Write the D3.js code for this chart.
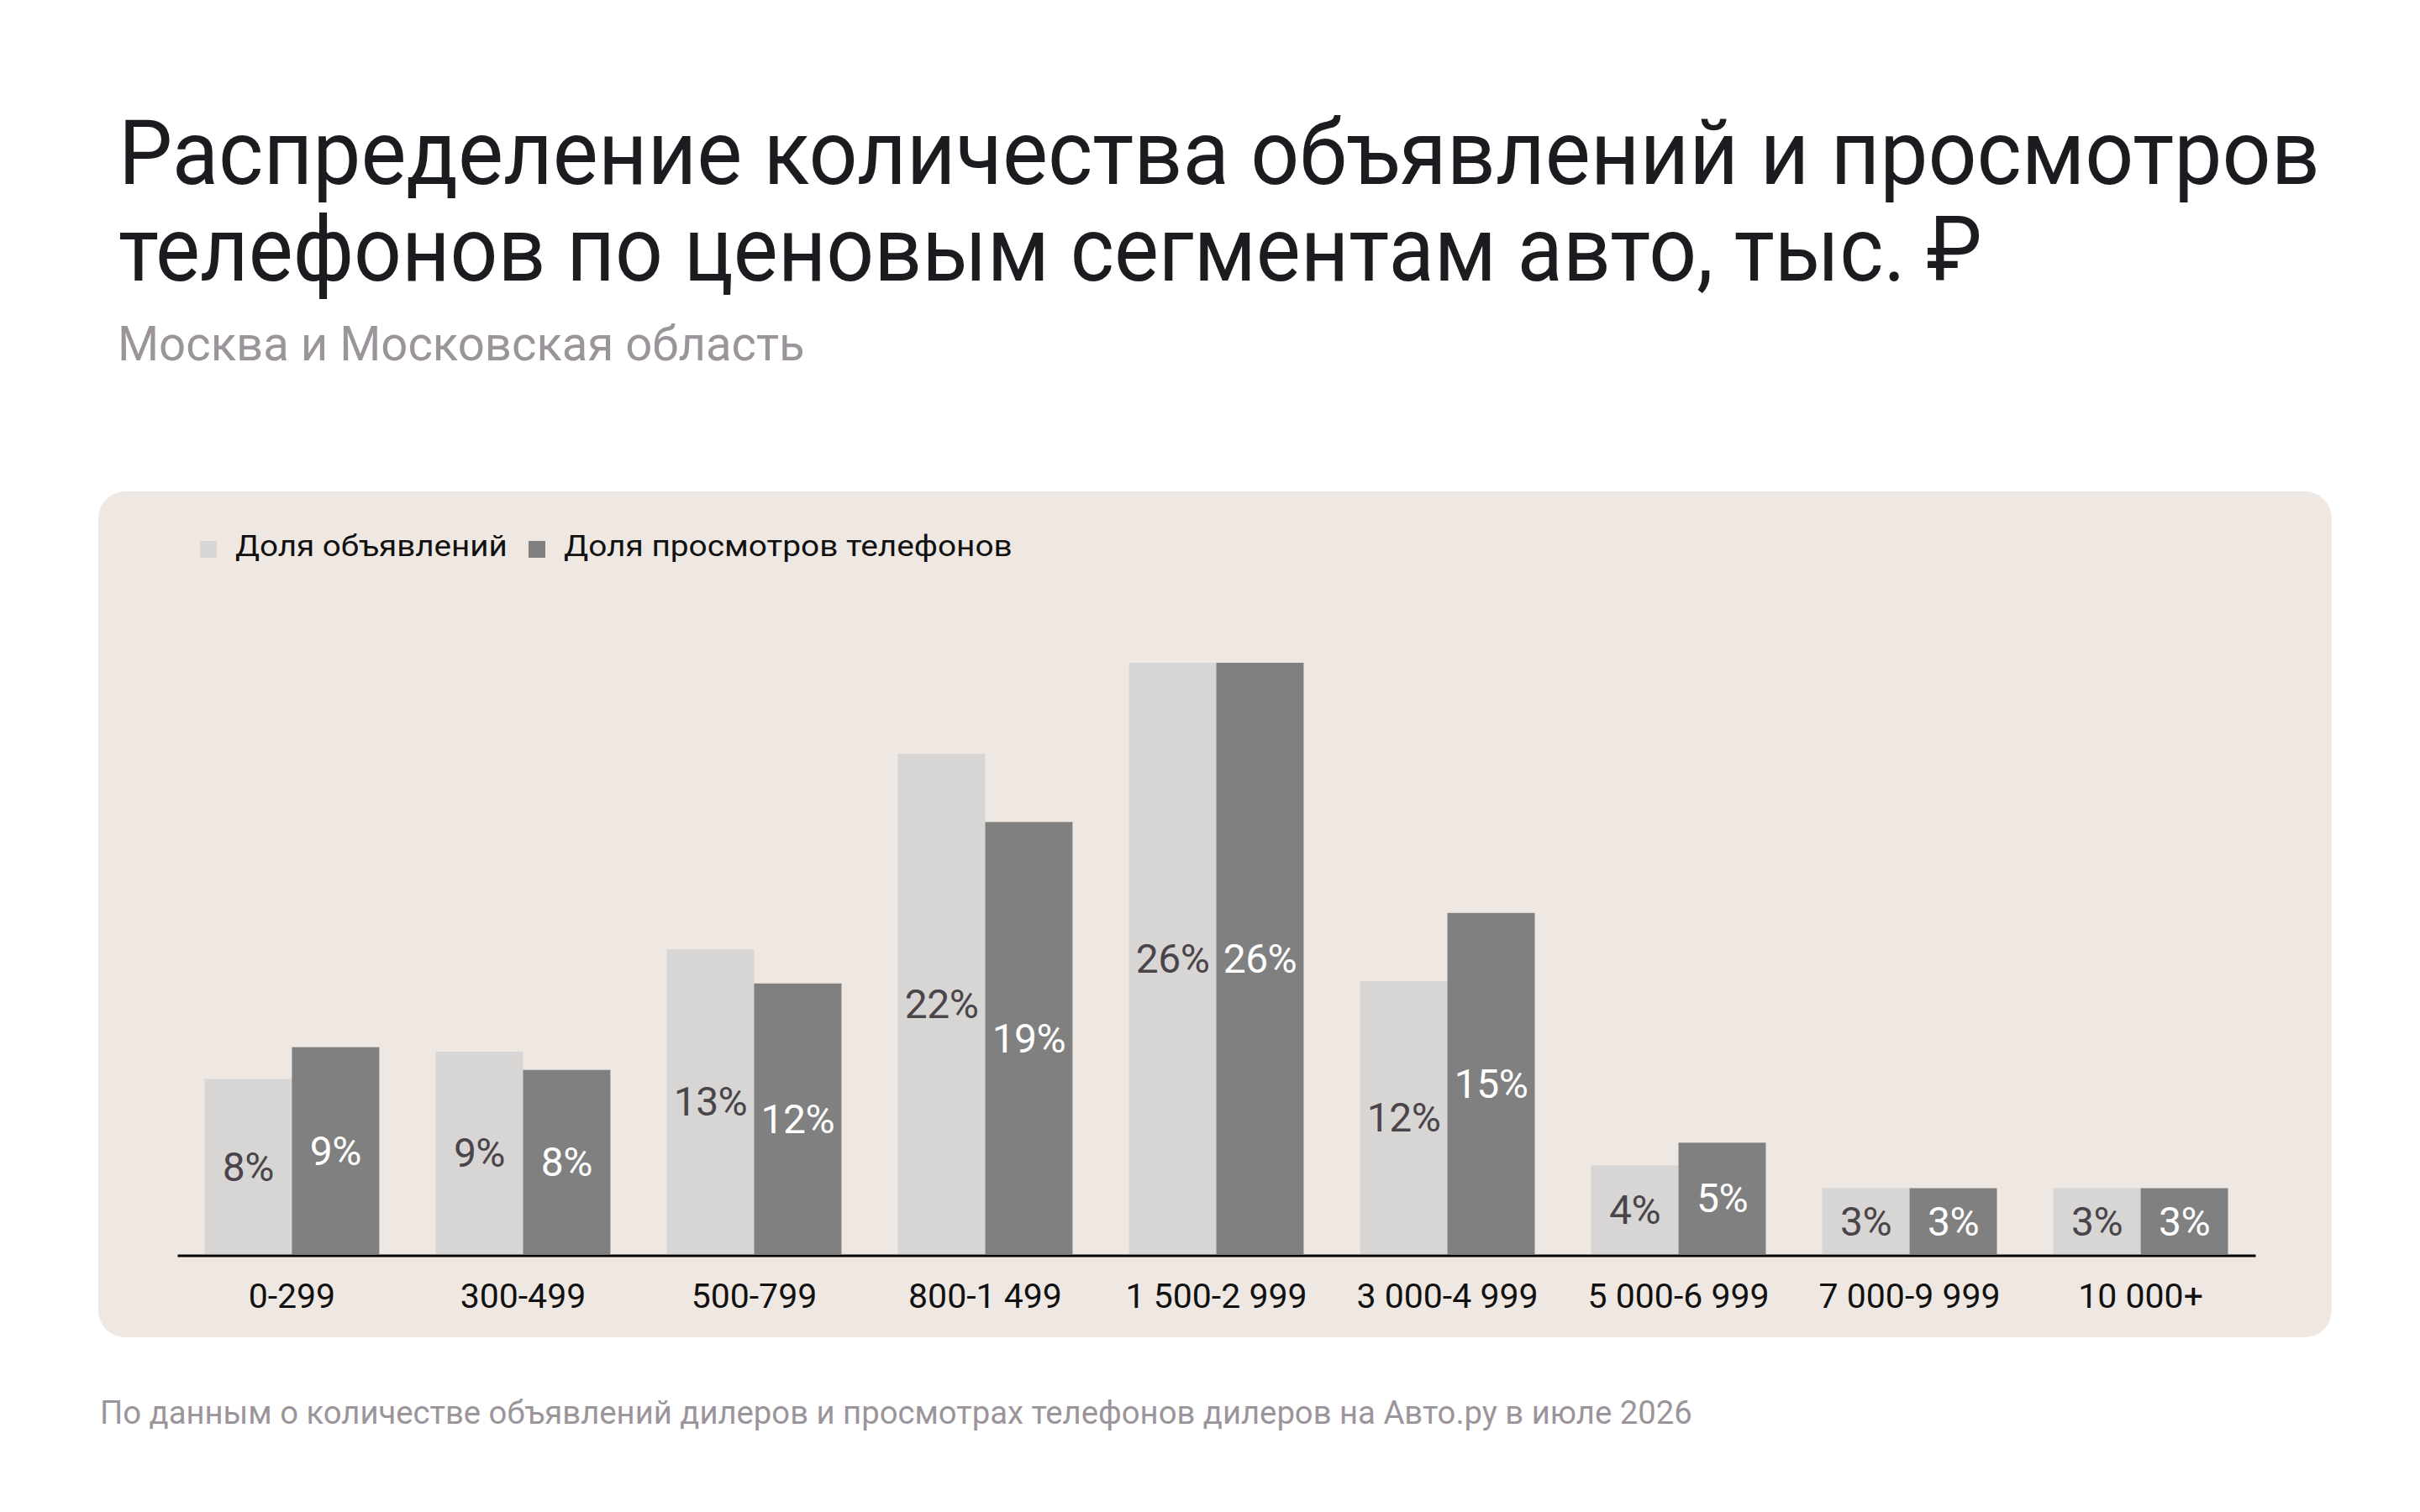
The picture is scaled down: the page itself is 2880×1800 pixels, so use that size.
<!DOCTYPE html>
<html>
<head>
<meta charset="utf-8">
<script src="https://cdn.jsdelivr.net/npm/d3@7"></script>
<style>
  body { margin: 0; background: #ffffff; }
  svg { display: block; }
</style>
</head>
<body>
<div class="chart"></div>
<script>
// Price segments, thousand rubles
var categories = ["0-299", "300-499", "500-799", "800-1 499", "1 500-2 999",
                  "3 000-4 999", "5 000-6 999", "7 000-9 999", "10 000+"];

// Share of listings, %
var listingShare = [7.7, 8.9, 13.4, 22.0, 26.0, 12.0, 3.9, 2.9, 2.9];
// Share of phone views, %
var phoneViewShare = [9.1, 8.1, 11.9, 19.0, 26.0, 15.0, 4.9, 2.9, 2.9];

var seriesNames = ["Доля объявлений", "Доля просмотров телефонов"];
var seriesKeys = ["listings", "views"];

var titleLines = ["Распределение количества объявлений и просмотров",
                  "телефонов по ценовым сегментам авто, тыс. ₽"];
var subtitle = "Москва и Московская область";
var footnote = "По данным о количестве объявлений дилеров и просмотрах телефонов дилеров на Авто.ру в июле 2026";

var font = "Roboto, 'Noto Sans', sans-serif";
var colors = { listings: "#d7d6d4", views: "#808080" };
var labelColors = { listings: "#4b454b", views: "#ffffff" };

var rows = categories.map(function(c, i) {
  return { cat: c, listings: listingShare[i], views: phoneViewShare[i] };
});

var width = 2880, height = 1800;
var baseline = 1493;

var svg = d3.select(".chart").append("svg")
            .attr("width", width)
            .attr("height", height)
            .style("font-family", font);

// put a text at (x, y) and squeeze it horizontally to width w
function placeText(sel, x, y, w) {
  var natural = sel.node().getComputedTextLength();
  var k = w / natural;
  sel.attr("transform", "translate(" + x + "," + y + ") scale(" + k + ",1)");
}

// Title + subtitle
svg.selectAll("text.title")
   .data(titleLines)
   .enter().append("text")
   .attr("class", "title")
   .style("font-size", "108px")
   .style("fill", "#1d1b1f")
   .text(function(d) { return d; })
   .each(function(d, i) {
     placeText(d3.select(this), 141, 219 + i * 115, i === 0 ? 2620 : 2218);
   });

svg.append("text")
   .style("font-size", "58px")
   .style("fill", "#9b959b")
   .text(subtitle)
   .call(placeText, 140, 429, 818);

// Panel
svg.append("rect")
   .attr("x", 117)
   .attr("y", 585)
   .attr("width", 2658)
   .attr("height", 1007)
   .attr("rx", 32)
   .style("fill", "#efe8e2");

// Legend
var legend = svg.append("g");
var legendX = [238, 629];
var legendW = [324, 534];
seriesKeys.forEach(function(k, i) {
  legend.append("rect")
        .attr("x", legendX[i])
        .attr("y", 644)
        .attr("width", 20)
        .attr("height", 20)
        .style("fill", colors[k]);
  legend.append("text")
        .style("font-size", "35px")
        .style("fill", "#111111")
        .text(seriesNames[i])
        .call(placeText, legendX[i] + 42, 662, legendW[i]);
});

// Scales
var x0 = d3.scaleBand()
           .domain(categories)
           .range([211, 2684])
           .paddingInner(0.244)
           .paddingOuter(0.118);

var x1 = d3.scaleBand()
           .domain(seriesKeys)
           .range([0, x0.bandwidth()]);

var y = d3.scaleLinear()
          .domain([0, 26])
          .range([baseline, 789]);

// Bars
var groups = svg.selectAll("g.group")
                .data(rows)
                .enter().append("g")
                .attr("class", "group")
                .attr("transform", function(d) { return "translate(" + x0(d.cat) + ",0)"; });

groups.selectAll("rect")
      .data(function(d) { return seriesKeys.map(function(k) { return { key: k, value: d[k] }; }); })
      .enter().append("rect")
      .attr("x", function(d) { return x1(d.key); })
      .attr("y", function(d) { return y(d.value); })
      .attr("width", x1.bandwidth())
      .attr("height", function(d) { return baseline - y(d.value); })
      .style("fill", function(d) { return colors[d.key]; });

// Value labels in the middle of each bar
groups.selectAll("text")
      .data(function(d) { return seriesKeys.map(function(k) { return { key: k, value: d[k] }; }); })
      .enter().append("text")
      .attr("x", function(d) { return x1(d.key) + x1.bandwidth() / 2; })
      .attr("y", function(d) { return (y(d.value) + baseline) / 2; })
      .attr("dy", "0.35em")
      .attr("text-anchor", "middle")
      .style("font-size", "48px")
      .style("letter-spacing", "-0.5px")
      .style("fill", function(d) { return labelColors[d.key]; })
      .text(function(d) { return Math.round(d.value) + "%"; });

// X axis
var xAxis = svg.append("g")
               .attr("transform", "translate(0," + (baseline + 1.5) + ")")
               .call(d3.axisBottom(x0).tickSize(0).tickSizeOuter(0).tickPadding(33));

xAxis.select(".domain")
     .style("stroke", "#000000")
     .style("stroke-width", 3);

xAxis.selectAll("text")
     .style("font-family", font)
     .style("font-size", "41px")
     .style("fill", "#111111");

// Footnote
svg.append("text")
   .style("font-size", "39px")
   .style("fill", "#9b959b")
   .text(footnote)
   .call(placeText, 119, 1695, 1895);
</script>
</body>
</html>
